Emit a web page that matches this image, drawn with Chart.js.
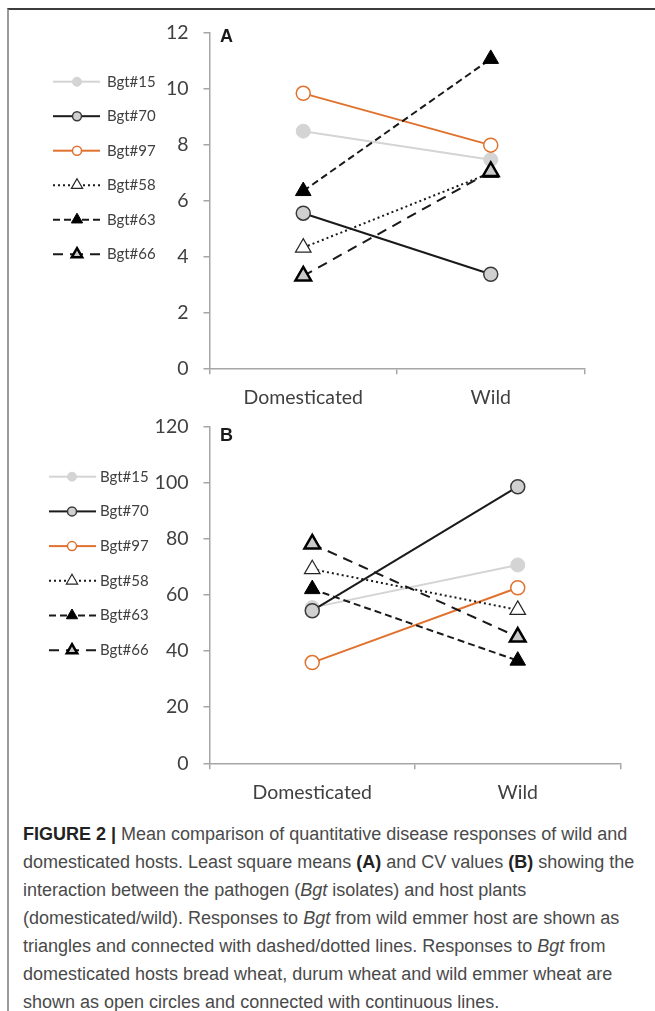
<!DOCTYPE html>
<html>
<head>
<meta charset="utf-8">
<script src="https://cdn.jsdelivr.net/npm/chart.js@4.4.1/dist/chart.umd.min.js"></script>
<style>
body { margin: 0; background: #fff; width: 655px; height: 1011px; position: relative; overflow: hidden; }
#frame { position: absolute; left: 7px; top: 8px; right: -5px; bottom: -5px; border-top: 2.5px solid #3c3c3c; border-left: 2px solid #9a9a9a; }
.wrap { position: absolute; left: 0; width: 655px; }
#wrapA { top: 0; height: 410px; }
#wrapB { top: 400px; height: 410px; }
.panel { position: absolute; left: 220px; font: bold 18px "Liberation Sans", Arial, sans-serif; color: #1a1a1a; }
#caption { position: absolute; left: 23px; top: 820px; font-family: "Liberation Sans", Arial, sans-serif; font-size: 18px; line-height: 28px; color: #4a4a4a; white-space: nowrap; }
#caption b { color: #222; }
</style>
</head>
<body>
<div id="frame"></div>
<div class="wrap" id="wrapA"><canvas id="chartA" width="655" height="410"></canvas></div>
<div class="wrap" id="wrapB"><canvas id="chartB" width="655" height="410"></canvas></div>
<div class="panel" style="top:26px">A</div>
<div class="panel" style="top:425px">B</div>
<div id="caption">
<div><b>FIGURE 2 |</b> Mean comparison of quantitative disease responses of wild and</div>
<div>domesticated hosts. Least square means <b>(A)</b> and CV values <b>(B)</b> showing the</div>
<div>interaction between the pathogen (<i>Bgt</i> isolates) and host plants</div>
<div>(domesticated/wild). Responses to <i>Bgt</i> from wild emmer host are shown as</div>
<div>triangles and connected with dashed/dotted lines. Responses to <i>Bgt</i> from</div>
<div>domesticated hosts bread wheat, durum wheat and wild emmer wheat are</div>
<div>shown as open circles and connected with continuous lines.</div>
</div>
<script>
// Data
const categories = ['Domesticated', 'Wild'];
const isolates = ['Bgt#15', 'Bgt#70', 'Bgt#97', 'Bgt#58', 'Bgt#63', 'Bgt#66'];

// Panel A - least square means
const lsm15 = [8.47, 7.45];
const lsm70 = [5.54, 3.36];
const lsm97 = [9.82, 7.97];
const lsm58 = [4.31, 6.98];
const lsm63 = [6.33, 11.05];
const lsm66 = [3.30, 7.03];
const yTicksA = [0, 2, 4, 6, 8, 10, 12];

// Panel B - CV values
const cv15 = [55.5, 70.7];
const cv70 = [54.4, 98.6];
const cv97 = [35.9, 62.6];
const cv58 = [69.2, 54.7];
const cv63 = [62.1, 36.6];
const cv66 = [78.2, 45.0];
const yTicksB = [0, 20, 40, 60, 80, 100, 120];

// look of each isolate (line + marker)
const looks = [
    { color: '#d4d4d4', dash: [], style: 'circle', r: 7, fill: '#d4d4d4', edge: '#d4d4d4', ew: 1, lr: 4.5 },
    { color: '#1a1a1a', dash: [], style: 'circle', r: 7, fill: '#d0d0d0', edge: '#3a3a3a', ew: 1.5, lr: 4.5 },
    { color: '#e0722e', dash: [], style: 'circle', r: 7, fill: '#ffffff', edge: '#e0722e', ew: 1.5, lr: 4.5 },
    { color: '#1a1a1a', dash: [2, 3], style: 'triangle', r: 9, fill: '#ffffff', edge: '#262626', ew: 1.2, lr: 6.5 },
    { color: '#1a1a1a', dash: [7, 4], style: 'triangle', r: 9, fill: '#000000', edge: '#000000', ew: 1, lr: 6.5 },
    { color: '#1a1a1a', dash: [10, 7], style: 'triangle', r: 9, fill: '#c9c9c9', edge: '#000000', ew: 2.5, lr: 6 }
];

Chart.defaults.font.family = 'Lato';
Chart.defaults.color = '#404040';

function drawMarker(ctx, style, r, x, y) {
    ctx.beginPath();
    if (style === 'circle') {
        ctx.arc(x, y, r, 0, Math.PI * 2);
    } else {
        for (let k = 0; k < 3; k++) {
            const a = k * Math.PI * 2 / 3;
            const px = x + Math.sin(a) * r, py = y - Math.cos(a) * r;
            if (k === 0) ctx.moveTo(px, py); else ctx.lineTo(px, py);
        }
        ctx.closePath();
    }
    ctx.fill();
    ctx.stroke();
}

// legend on the left side, drawn from the datasets
const sideLegend = {
    id: 'sideLegend',
    afterDraw(chart, args, o) {
        const ctx = chart.ctx;
        chart.data.datasets.forEach((ds, i) => {
            const y = o.top + i * o.step;
            ctx.save();
            ctx.strokeStyle = ds.borderColor;
            ctx.lineWidth = ds.borderWidth;
            ctx.setLineDash(ds.borderDash);
            ctx.beginPath(); ctx.moveTo(o.x1, y); ctx.lineTo(o.mx, y); ctx.stroke();
            ctx.beginPath(); ctx.moveTo(o.x2, y); ctx.lineTo(o.mx, y); ctx.stroke();
            ctx.setLineDash([]);
            ctx.fillStyle = ds.pointBackgroundColor;
            ctx.strokeStyle = ds.pointBorderColor;
            ctx.lineWidth = ds.pointBorderWidth;
            drawMarker(ctx, ds.pointStyle, ds.legendR, o.mx, y);
            ctx.fillStyle = '#404040';
            ctx.font = '15px Lato';
            ctx.textBaseline = 'middle';
            ctx.fillText(ds.label, o.tx, y);
            ctx.restore();
        });
    }
};

function makePanel(id, series, yTicks, pad, xHeight, legend) {
    const datasets = series.map((vals, i) => {
        const lk = looks[i];
        return {
            label: isolates[i],
            data: vals,
            borderColor: lk.color,
            borderWidth: 2,
            borderDash: lk.dash,
            pointStyle: lk.style,
            pointRadius: lk.r,
            pointHoverRadius: lk.r,
            pointBackgroundColor: lk.fill,
            pointBorderColor: lk.edge,
            pointBorderWidth: lk.ew,
            legendR: lk.lr,
            order: series.length - i,
            tension: 0
        };
    });
    return new Chart(document.getElementById(id), {
        type: 'line',
        data: { labels: categories, datasets: datasets },
        options: {
            responsive: false,
            animation: false,
            devicePixelRatio: 1,
            layout: { padding: pad },
            plugins: { legend: { display: false }, tooltip: { enabled: false }, sideLegend: legend },
            scales: {
                x: {
                    offset: true,
                    grid: { offset: true, drawOnChartArea: false, drawTicks: true, tickLength: 6, color: '#a6a6a6', lineWidth: 1.5 },
                    border: { color: '#a6a6a6', width: 1.5 },
                    ticks: { font: { size: 19.5 }, color: '#404040', padding: 12 },
                    afterFit: s => { s.height = xHeight; }
                },
                y: {
                    min: yTicks[0],
                    max: yTicks[yTicks.length - 1],
                    grid: { drawOnChartArea: false, drawTicks: true, tickLength: 6, color: '#a6a6a6', lineWidth: 1.5 },
                    border: { color: '#a6a6a6', width: 1.5 },
                    ticks: { stepSize: yTicks[1] - yTicks[0], font: { size: 19.5 }, color: '#404040', padding: 15 },
                    afterFit: s => { s.width = 70; }
                }
            }
        },
        plugins: [sideLegend]
    });
}

makePanel('chartA', [lsm15, lsm70, lsm97, lsm58, lsm63, lsm66], yTicksA,
    { left: 139.5, right: 70.5, top: 32.3, bottom: 0 }, 41.7,
    { top: 81.7, step: 34.5, x1: 53, x2: 100, mx: 77, tx: 107 });

makePanel('chartB', [cv15, cv70, cv97, cv58, cv63, cv66], yTicksB,
    { left: 139.5, right: 34.5, top: 26.7, bottom: 0 }, 46.7,
    { top: 76.7, step: 34.7, x1: 49, x2: 96, mx: 72, tx: 100 });
</script>
</body>
</html>
